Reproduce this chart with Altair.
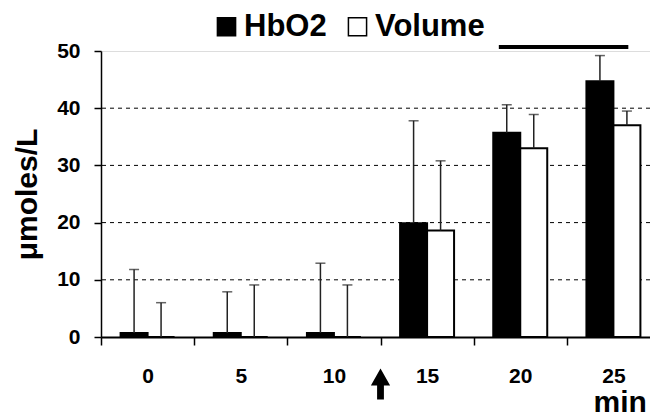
import altair as alt
import pandas as pd

# ---- data ----
cats = ["0", "5", "10", "15", "20", "25"]
series = ["HbO2", "Volume"]
hbo2 = [0.7, 0.7, 0.7, 19.9, 35.7, 44.7]
hbo2_sd = [11.1, 7.2, 12.2, 17.9, 4.9, 4.5]
volume = [0.0, 0.0, 0.0, 18.6, 33.0, 37.0]
volume_sd = [6.0, 9.1, 9.1, 12.2, 5.9, 2.5]
grid_values = [10, 20, 30, 40]
y_ticks = [0, 10, 20, 30, 40, 50]
sig_start, sig_end, sig_level = "20", "25", 50.7
arrow_cat, arrow_level = "15", -8.2

rows = []
for i, c in enumerate(cats):
    rows.append({"cat": c, "series": "HbO2", "value": hbo2[i], "upper": hbo2[i] + hbo2_sd[i]})
    rows.append({"cat": c, "series": "Volume", "value": volume[i], "upper": volume[i] + volume_sd[i]})
df = pd.DataFrame(rows)
grid_df = pd.DataFrame({"g": grid_values})
sig_df = pd.DataFrame({"start": [sig_start], "end": [sig_end], "lvl": [sig_level]})
arrow_df = pd.DataFrame({"cat": [arrow_cat], "lvl": [arrow_level]})

FONT = "Liberation Sans"
x_scale = alt.Scale(domain=cats, paddingInner=0, paddingOuter=0, range=[0, 559])
y_scale = alt.Scale(domain=[0, 50], nice=False)
x_axis = alt.Axis(title="min", tickBand="extent", labelAngle=0)
y_axis = alt.Axis(title="μmoles/L", values=y_ticks)

def X(field, **kw):
    return alt.X(f"{field}:N", scale=x_scale, axis=x_axis, **kw)

def Y(field):
    return alt.Y(f"{field}:Q", scale=y_scale, axis=y_axis)

off = alt.XOffset("series:N", scale=alt.Scale(domain=series, paddingInner=0, paddingOuter=0.726))

grid = alt.Chart(grid_df).mark_rule(color="black", strokeWidth=1, strokeDash=[4, 4]).encode(
    y=Y("g")
)

bars = alt.Chart(df).mark_bar(stroke="black", strokeWidth=2).encode(
    x=X("cat"),
    xOffset=off,
    y=Y("value"),
    color=alt.Color(
        "series:N",
        scale=alt.Scale(domain=series, range=["black", "white"]),
        legend=alt.Legend(
            title=None, orient="none", direction="horizontal",
            legendX=110, legendY=-40, symbolType="square", symbolSize=330,
            symbolStrokeColor="black", symbolStrokeWidth=1.5,
            labelFont=FONT, labelFontSize=31, labelFontWeight="bold", labelColor="black",
            labelOffset=2, columnPadding=15, padding=0,
        ),
    ),
)

err = alt.Chart(df).mark_rule(color="#222222", strokeWidth=1.5).encode(
    x=X("cat"), xOffset=off, y=Y("value"), y2="upper:Q"
)

caps = alt.Chart(df).mark_tick(color="#222222", thickness=1.5, size=10, orient="horizontal").encode(
    x=X("cat"), xOffset=off, y=Y("upper")
)

sig = alt.Chart(sig_df).mark_rule(color="black", strokeWidth=4).encode(
    x=X("start", bandPosition=0.27),
    x2=alt.X2("end:N", bandPosition=0.66),
    y=Y("lvl"),
)

arrow_path = "M0,-1 L0.62,0.1 L0.22,0.1 L0.22,1 L-0.22,1 L-0.22,0.1 L-0.62,0.1 Z"
arrow = alt.Chart(arrow_df).mark_point(
    shape=arrow_path, size=961, filled=True, color="black", opacity=1
).encode(x=X("cat", bandPosition=0), y=Y("lvl"))

chart = alt.layer(grid, bars, err, caps, sig, arrow).properties(
    width=549, height=286,
    autosize=alt.AutoSizeParams(type="none"),
    padding={"left": 101, "top": 51, "right": 0, "bottom": 78},
).configure_view(stroke=None).configure(background="white").configure_axis(
    labelFont=FONT, labelFontWeight="bold", labelFontSize=21, labelColor="black",
    titleFont=FONT, titleFontWeight="bold", titleFontSize=30, titleColor="black",
    domainColor="black", tickColor="black", grid=False,
).configure_axisX(
    domainWidth=2, tickWidth=1.5, tickSize=8, labelPadding=20,
    titleX=492, titleY=74, titleAlign="left", titleBaseline="alphabetic",
).configure_axisY(
    domainWidth=1.5, tickWidth=1.5, tickSize=7, labelPadding=14,
    titleX=-65, titleY=143, titleAngle=270, titleAlign="center", titleBaseline="alphabetic",
)

chart.save("out.html", embed_options={"renderer": "svg", "actions": False})
